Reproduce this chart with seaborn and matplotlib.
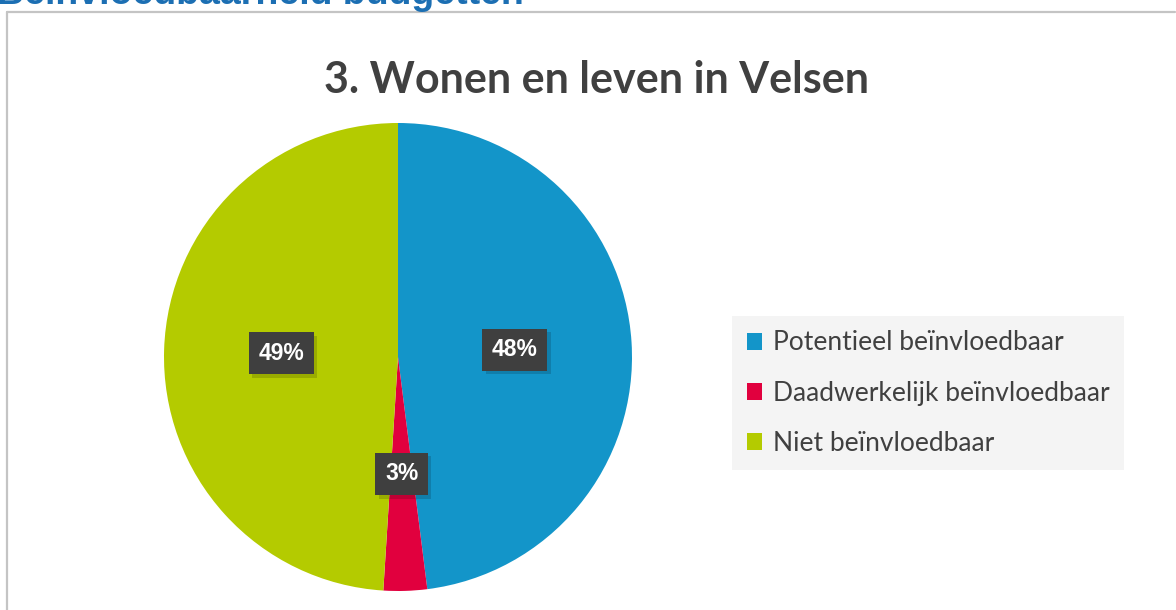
import matplotlib
matplotlib.use("Agg")
import matplotlib.pyplot as plt
import matplotlib.patheffects as pe
import seaborn as sns
from matplotlib.lines import Line2D
from matplotlib.patches import Patch

categories = ["Potentieel beïnvloedbaar", "Daadwerkelijk beïnvloedbaar", "Niet beïnvloedbaar"]
values = [48, 3, 49]
colors = ["#1395C9", "#E1003E", "#B4CB00"]
title = "3. Wonen en leven in Velsen"
heading = "Beïnvloedbaarheid budgetten"

sns.set_theme(style="white")
plt.rcParams['font.family'] = ['Lato', 'DejaVu Sans']

W, H = 1176, 610
fig = plt.figure(figsize=(W / 100, H / 100), dpi=100)
fig.patch.set_facecolor("white")

# chart frame
fig.add_artist(Line2D([7 / W, 7 / W], [0, 1 - 12 / H], color="#c4c4c4", lw=1.6, transform=fig.transFigure))
fig.add_artist(Line2D([7 / W, 1175 / W], [1 - 12 / H, 1 - 12 / H], color="#c4c4c4", lw=1.6, transform=fig.transFigure))

# heading cut off at top
fig.text(-3 / W, 1 - 4 / H, heading, color="#1C6FB3", fontsize=27, fontweight="bold",
         family=["Liberation Sans", "DejaVu Sans"], ha="left", va="baseline")

cx, cy, r = 398, 357, 234
ax = fig.add_axes([(cx - r) / W, (H - cy - r) / H, 2 * r / W, 2 * r / H])
wedges, texts, autotexts = ax.pie(
    values, colors=sns.color_palette(colors), startangle=90, counterclock=False,
    autopct=lambda p: f"{p:.0f}%", pctdistance=0.5, radius=1,
    wedgeprops=dict(linewidth=0),
    textprops=dict(color="white", fontsize=16.5, fontweight="bold",
                   family=["Liberation Sans", "DejaVu Sans"]))
for t in autotexts:
    t.set_bbox(dict(boxstyle="square,pad=0.42", facecolor="#3f3f3f", edgecolor="none"))
    t.get_bbox_patch().set_path_effects([
        pe.SimplePatchShadow(offset=(2.5, -2.5), shadow_rgbFace="black", alpha=0.15),
        pe.Normal()])
ax.set_xlim(-1, 1)
ax.set_ylim(-1, 1)
ax.set_aspect("auto")
ax.axis("off")

fig.text(596 / W, 1 - 80 / H, title, color="#404040", fontsize=31, fontweight="bold",
         ha="center", va="center")

handles = [Patch(facecolor=c, edgecolor="none") for c in colors]
leg = fig.legend(handles, categories, loc="center left",
                 bbox_to_anchor=(732 / W, 1 - 393 / H),
                 frameon=True, fancybox=False, facecolor="#f4f4f4", edgecolor="none",
                 fontsize=19, labelcolor="#404040", handlelength=0.6, handleheight=0.6,
                 handletextpad=0.4, labelspacing=0.95, borderpad=0.55, borderaxespad=0)
leg.get_frame().set_alpha(1)

fig.savefig("out.png", dpi=100)
